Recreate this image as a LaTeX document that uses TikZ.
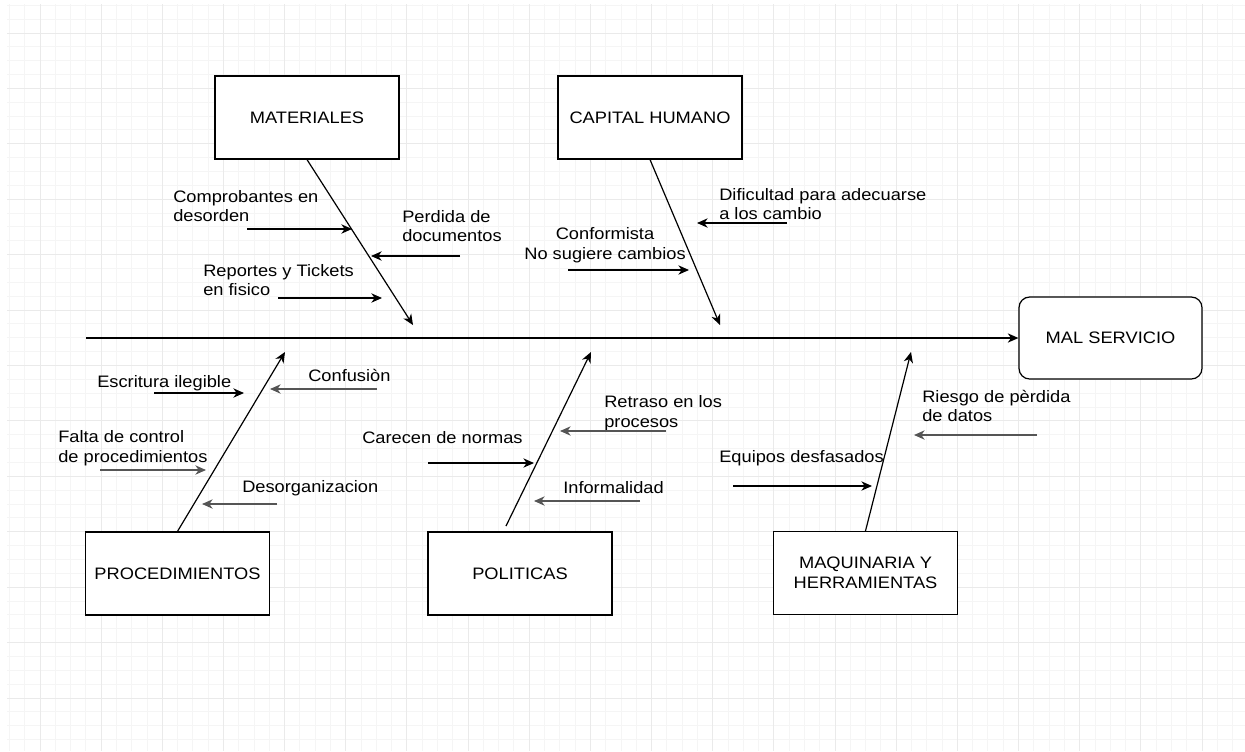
\documentclass[tikz,border=0pt]{standalone}
\usepackage{fontspec}
\setmainfont{Liberation Sans}[FakeStretch=1.1]
\usetikzlibrary{arrows.meta}
\definecolor{gris}{HTML}{555555}
\definecolor{rejilla}{HTML}{F5F5F5}
\definecolor{rejillab}{HTML}{EAEAEA}
\begin{document}
\begin{tikzpicture}[x=0.75pt,y=-0.75pt,
  texto/.style={font=\fontsize{12.45}{14.9}\selectfont},
  caja/.style={draw,line width=0.9pt,fill=white,minimum width=138pt,minimum height=62.25pt,align=center,texto},
  efecto/.style={caja,rounded corners=8pt,minimum width=137.25pt,minimum height=61.5pt},
  etiqueta/.style={anchor=west,inner sep=0pt,align=left,texto},
  flecha/.style={line width=0.9pt,-{Stealth[length=8pt,width=7pt,inset=2.5pt]}},
  flechagris/.style={flecha,gris}]
\useasboundingbox (0,0) rectangle (1245,751);
% fondo cuadriculado
\begin{scope}
\clip (7,4) rectangle (1245,751);
\foreach \k in {-2,...,80} \draw[rejilla,line width=0.75pt] ({40+15.29*\k},4) -- ++(0,747);
\foreach \k in {-2,...,52} \draw[rejilla,line width=0.75pt] (7,{33+13.855*\k}) -- ++(1238,0);
\foreach \k in {0,...,19} \draw[rejillab,line width=0.75pt] ({40+61.16*\k},4) -- ++(0,747);
\foreach \k in {0,...,12} \draw[rejillab,line width=0.75pt] (7,{33+55.42*\k}) -- ++(1238,0);
\end{scope}

% categorias
\node[caja] (materiales) at (307,117.5) {MATERIALES};
\node[caja] (capital) at (650,117.5) {CAPITAL HUMANO};
\node[caja] (procedimientos) at (177.5,573.5) {PROCEDIMIENTOS};
\node[caja] (politicas) at (520,573.5) {POLITICAS};
\node[caja] (maquinaria) at (865.5,573) {MAQUINARIA Y\\HERRAMIENTAS};
\node[efecto] (mal) at (1110.5,338) {MAL SERVICIO};

% espina central
\coordinate (cola) at (86,338);
\draw[flecha] (cola) -- (mal.west);

% espinas
\coordinate (mat1) at (413,325);
\coordinate (cap1) at (720,325);
\coordinate (pro1) at (285,352);
\coordinate (pol0) at (506,526);
\coordinate (pol1) at (591,352);
\coordinate (maq1) at (911,352);
\draw[flecha] (materiales.south) -- (mat1);
\draw[flecha] (capital.south) -- (cap1);
\draw[flecha] (procedimientos.north) -- (pro1);
\draw[flecha] (pol0) -- (pol1);
\draw[flecha] (maquinaria.north) -- (maq1);

% causas - materiales
\node[etiqueta] (comprobantes) at (173,206) {Comprobantes en\\desorden};
\node[etiqueta] (perdida) at (402,226) {Perdida de\\documentos};
\node[etiqueta] (reportes) at (203,280) {Reportes y Tickets\\en fisico};
\coordinate (comp0) at (247,229); \coordinate (comp1) at (352,229);
\coordinate (perd0) at (460,256); \coordinate (perd1) at (371,256);
\coordinate (rep0) at (278,298);  \coordinate (rep1) at (382,298);
\draw[flecha] (comp0) -- (comp1);
\draw[flecha] (perd0) -- (perd1);
\draw[flecha] (rep0) -- (rep1);

% causas - capital humano
\node[etiqueta] (dificultad) at (719,204) {Dificultad para adecuarse\\a los cambio};
\node[etiqueta,anchor=center,align=center] (conformista) at (605,245) {Conformista\\No sugiere cambios};
\coordinate (dif0) at (787,223);  \coordinate (dif1) at (697,223);
\coordinate (conf0) at (568,270); \coordinate (conf1) at (689,270);
\draw[flecha] (dif0) -- (dif1);
\draw[flecha] (conf0) -- (conf1);

% causas - procedimientos
\node[etiqueta] (escritura) at (97,383) {Escritura ilegible};
\node[etiqueta] (confusion) at (308,375) {Confusiòn};
\node[etiqueta] (falta) at (58,448) {Falta de control\\de procedimientos};
\node[etiqueta] (desorg) at (242,488) {Desorganizacion};
\coordinate (esc0) at (154,393);  \coordinate (esc1) at (244,393);
\coordinate (cfn0) at (377,389);  \coordinate (cfn1) at (270,389);
\coordinate (fal0) at (100,470);  \coordinate (fal1) at (206,470);
\coordinate (des0) at (277,504);  \coordinate (des1) at (202,504);
\draw[flecha] (esc0) -- (esc1);
\draw[flechagris] (cfn0) -- (cfn1);
\draw[flechagris] (fal0) -- (fal1);
\draw[flechagris] (des0) -- (des1);

% causas - politicas
\node[etiqueta] (retraso) at (604,413) {Retraso en los\\procesos};
\node[etiqueta] (carecen) at (362,438) {Carecen de normas};
\node[etiqueta] (informal) at (563,488) {Informalidad};
\coordinate (ret0) at (666,431);  \coordinate (ret1) at (560,431);
\coordinate (car0) at (428,463);  \coordinate (car1) at (534,463);
\coordinate (inf0) at (640,501);  \coordinate (inf1) at (534,501);
\draw[flechagris] (ret0) -- (ret1);
\draw[flecha] (car0) -- (car1);
\draw[flechagris] (inf0) -- (inf1);

% causas - maquinaria
\node[etiqueta] (riesgo) at (922,406) {Riesgo de pèrdida\\de datos};
\node[etiqueta] (equipos) at (719,458) {Equipos desfasados};
\coordinate (rie0) at (1037,435); \coordinate (rie1) at (914,435);
\coordinate (equ0) at (733,486);  \coordinate (equ1) at (872,486);
\draw[flechagris] (rie0) -- (rie1);
\draw[flecha] (equ0) -- (equ1);
\end{tikzpicture}
\end{document}
